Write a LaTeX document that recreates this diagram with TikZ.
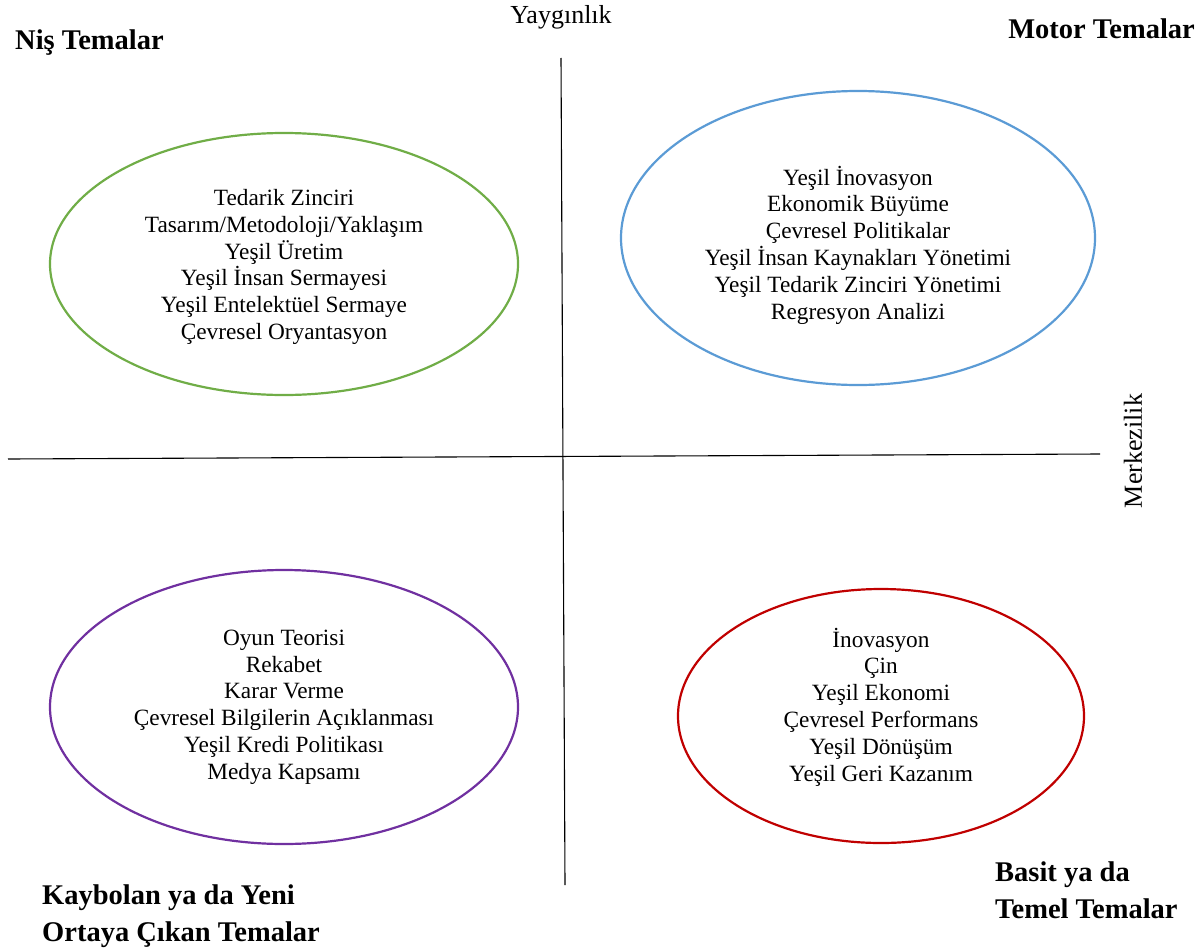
\documentclass[tikz,border=0pt]{standalone}
\usepackage{fontspec}
\setmainfont{Liberation Serif}
\usetikzlibrary{shapes.geometric}
\usepackage{xcolor}
\definecolor{nisgreen}{HTML}{70AD47}
\definecolor{motorblue}{HTML}{5B9BD5}
\definecolor{kaybpurple}{HTML}{7030A0}
\definecolor{temelred}{HTML}{C00000}

\begin{document}
\begin{tikzpicture}[
x=1pt, y=-1pt,
ring/.style={
	ellipse, draw, line width=2.2pt, inner sep=0pt,
},
themetext/.style={
	inner sep=0pt, align=center,
	font=\fontsize{23.3}{26.8}\selectfont,
},
quadrant/.style={
	font=\fontsize{28.5}{36.5}\selectfont\bfseries,
	align=left, inner sep=0pt,
},
axislabel/.style={font=\fontsize{26}{28}\selectfont, inner sep=0pt},
axis/.style={draw, line width=1.1pt},
]
\useasboundingbox (0,0) rectangle (1204,950);

% axes
\coordinate (ytop) at (561,58);
\coordinate (ybottom) at (565,885);
\coordinate (xleft) at (8,459);
\coordinate (xright) at (1100,454);
\path[axis] (ytop) -- (ybottom);
\path[axis] (xleft) -- (xright);

\node[axislabel] (yayginlik) at (561,17) {Yaygınlık};
\node[axislabel, rotate=90] (merkezilik) at (1133,451) {Merkezilik};

% quadrant titles
\node[quadrant, anchor=west] (nis) at (15,43) {Niş Temalar};
\node[quadrant, anchor=east] (motor) at (1195,29) {Motor Temalar};
\node[quadrant, anchor=west] (kaybolan) at (42,916) {Kaybolan ya da Yeni\\Ortaya Çıkan Temalar};
\node[quadrant, anchor=west] (basit) at (995,890) {Basit ya da\\Temel Temalar};

% themes
\node[ring, draw=nisgreen, minimum width=468pt, minimum height=262pt] (nisring) at (284,264) {};
\node[themetext, yshift=-3pt] (nisthemes) at (nisring.center) {
    Tedarik Zinciri\\
    Tasarım/Metodoloji/Yaklaşım\\
    Yeşil Üretim\\
    Yeşil İnsan Sermayesi\\
    Yeşil Entelektüel Sermaye\\
    Çevresel Oryantasyon
    };
\node[ring, draw=motorblue, minimum width=474pt, minimum height=294pt] (motorring) at (858,238) {};
\node[themetext, yshift=-7pt] (motorthemes) at (motorring.center) {
    Yeşil İnovasyon\\
    Ekonomik Büyüme\\
    Çevresel Politikalar\\
    Yeşil İnsan Kaynakları Yönetimi\\
    Yeşil Tedarik Zinciri Yönetimi\\
    Regresyon Analizi
    };
\node[ring, draw=kaybpurple, minimum width=468pt, minimum height=274pt] (kaybring) at (284,707) {};
\node[themetext] (kaybthemes) at (kaybring.center) {
    Oyun Teorisi\\
    Rekabet\\
    Karar Verme\\
    Çevresel Bilgilerin Açıklanması\\
    Yeşil Kredi Politikası\\
    Medya Kapsamı
    };
\node[ring, draw=temelred, minimum width=406pt, minimum height=254pt] (temelring) at (881,716) {};
\node[themetext, yshift=9pt] (temelthemes) at (temelring.center) {
    İnovasyon\\
    Çin\\
    Yeşil Ekonomi\\
    Çevresel Performans\\
    Yeşil Dönüşüm\\
    Yeşil Geri Kazanım
    };
\end{tikzpicture}
\end{document}
